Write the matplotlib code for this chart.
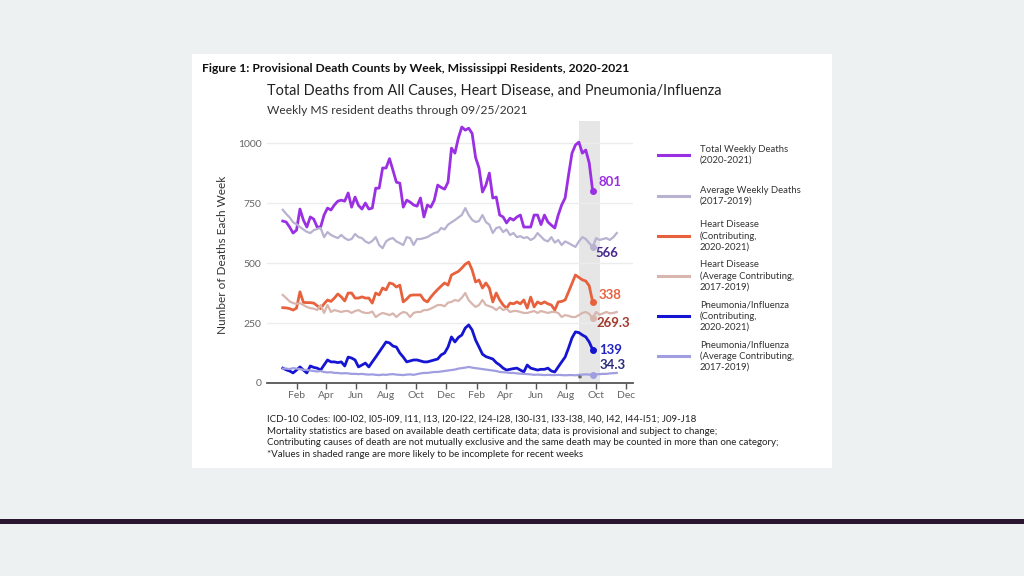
import pandas as pd
import matplotlib.pyplot as plt
import matplotlib.dates as mdates
from matplotlib.lines import Line2D
from matplotlib.patches import Rectangle

plt.rcParams['font.family'] = ['Lato', 'DejaVu Sans']

# weekly values (week ending dates, starting 2020-01-04)
total_deaths = [675, 671, 650, 625, 637, 725, 679, 650, 692, 683, 650, 650, 700, 729, 721, 742,
                758, 762, 758, 792, 733, 775, 740, 725, 750, 725, 729, 812, 812, 896, 896, 935,
                887, 837, 833, 733, 762, 754, 742, 737, 771, 692, 742, 733, 762, 825, 815, 808,
                837, 979, 958, 1021, 1067, 1054, 1062, 1040, 940, 896, 796, 825, 875, 771, 775,
                700, 692, 667, 687, 679, 692, 700, 650, 650, 650, 700, 700, 660, 700, 671, 658,
                646, 700, 742, 771, 867, 958, 992, 1004, 958, 971, 917, 801]
avg_deaths = [722, 705, 690, 670, 662, 650, 640, 630, 625, 637, 642, 646, 608, 629, 617, 610,
              604, 617, 604, 596, 600, 621, 608, 604, 590, 583, 592, 608, 575, 562, 590, 600,
              604, 590, 583, 575, 608, 604, 575, 600, 600, 604, 608, 617, 625, 629, 646, 640,
              660, 670, 679, 690, 700, 729, 700, 680, 671, 675, 700, 671, 660, 625, 646, 650,
              629, 640, 617, 625, 608, 612, 604, 608, 596, 604, 625, 610, 596, 590, 608, 585,
              596, 575, 590, 583, 575, 567, 590, 608, 600, 583, 566, 604, 596, 600, 604, 596,
              608, 625]
heart = [314, 313, 310, 304, 312, 380, 336, 335, 335, 333, 322, 310, 330, 346, 340, 354,
         371, 359, 342, 375, 375, 354, 354, 359, 354, 354, 333, 375, 367, 396, 388, 417,
         413, 400, 408, 338, 350, 365, 367, 367, 367, 346, 338, 358, 375, 390, 404, 417,
         408, 450, 458, 465, 479, 495, 504, 471, 421, 429, 396, 417, 396, 338, 375, 346,
         325, 312, 333, 330, 338, 330, 346, 312, 358, 317, 338, 330, 338, 330, 325, 304,
         338, 340, 346, 380, 415, 450, 440, 430, 425, 405, 338]
heart_avg = [367, 354, 340, 333, 330, 333, 325, 317, 312, 310, 304, 325, 292, 325, 296, 304,
             300, 296, 300, 300, 292, 300, 304, 296, 292, 292, 298, 275, 285, 292, 288, 283,
             290, 275, 288, 296, 292, 275, 292, 296, 296, 304, 304, 310, 317, 325, 325, 320,
             335, 338, 346, 342, 355, 375, 345, 330, 317, 325, 346, 325, 320, 315, 304, 317,
             304, 310, 296, 300, 300, 296, 292, 292, 296, 300, 292, 300, 296, 292, 296, 296,
             292, 275, 283, 280, 275, 275, 283, 292, 296, 288, 269.3, 296, 285, 290, 296, 290,
             292, 296]
pneu = [62, 55, 50, 42, 54, 67, 54, 42, 71, 65, 62, 54, 75, 96, 88, 88,
        85, 88, 71, 108, 104, 96, 67, 75, 83, 67, 88, 108, 129, 150, 171, 167,
        154, 150, 125, 108, 88, 92, 96, 96, 92, 88, 88, 92, 96, 100, 117, 125,
        150, 192, 171, 190, 200, 229, 242, 221, 179, 150, 120, 110, 105, 100, 85, 75,
        62, 54, 57, 60, 62, 54, 46, 75, 62, 58, 54, 57, 57, 62, 50, 46,
        67, 88, 108, 146, 188, 213, 210, 200, 192, 171, 139]
pneu_avg = [60, 60, 58, 62, 60, 58, 55, 54, 52, 50, 48, 50, 46, 44, 45, 42,
            42, 40, 41, 40, 38, 38, 37, 38, 36, 35, 36, 34, 33, 35, 34, 36,
            37, 35, 34, 33, 35, 36, 34, 37, 40, 42, 42, 44, 46, 46, 48, 50,
            52, 54, 56, 60, 62, 64, 67, 64, 62, 60, 58, 56, 54, 52, 50, 46,
            45, 44, 42, 42, 40, 39, 38, 37, 36, 34, 35, 34, 33, 34, 33, 33,
            34, 33, 32, 33, 33, 32, 34, 35, 36, 35, 34.3, 36, 37, 38, 38, 40,
            41, 42]

weeks = pd.date_range('2020-01-04', periods=len(total_deaths), freq='7D')
weeks_avg = pd.date_range('2020-01-04', periods=len(avg_deaths), freq='7D')
last = len(total_deaths) - 1

series = [
    (weeks, total_deaths, '#9a2fe3', 2.0, 'Total Weekly Deaths\n(2020-2021)', '801', '#9a2fe3', (4, 6)),
    (weeks_avg, avg_deaths, '#b8b1cf', 1.6, 'Average Weekly Deaths\n(2017-2019)', '566', '#4a2a8c', (2, -4)),
    (weeks, heart, '#e8613d', 2.0, 'Heart Disease\n(Contributing,\n2020-2021)', '338', '#e8613d', (4, 5)),
    (weeks_avg, heart_avg, '#d8b6ad', 1.6, 'Heart Disease\n(Average Contributing,\n2017-2019)', '269.3', '#a33a2c', (3, -3)),
    (weeks, pneu, '#1414d2', 2.0, 'Pneumonia/Influenza\n(Contributing,\n2020-2021)', '139', '#2424c4', (5, 0)),
    (weeks_avg, pneu_avg, '#a09ee0', 1.6, 'Pneumonia/Influenza\n(Average Contributing,\n2017-2019)', '34.3', '#2b2b7e', (5, 7)),
]

fig = plt.figure(figsize=(10.24, 5.76), dpi=100, facecolor='#eef1f1')
W, H = 1024, 576
fig.patches.append(Rectangle((192 / W, 1 - 468 / H), 640 / W, 414 / H, transform=fig.transFigure,
                             facecolor='white', edgecolor='none', zorder=-2))
fig.patches.append(Rectangle((0, 1 - 524 / H), 1, 5 / H, transform=fig.transFigure,
                             facecolor='#2b1631', edgecolor='none', zorder=-2))

ax = fig.add_axes([267 / W, 1 - 383 / H, 366 / W, 262 / H])
ax.set_zorder(2)
ax.set_facecolor('none')
ax.axvspan(pd.Timestamp('2021-08-28'), pd.Timestamp('2021-10-09'), color='#e6e6e6', zorder=0, lw=0)

for dates, vals, col, lw, lab, txt, tcol, off in series:
    ax.plot(dates, vals, color=col, lw=lw, zorder=3)
    ax.plot(dates[last], vals[last], 'o', color=col, ms=4, zorder=4)
    ax.annotate(txt, (dates[last], vals[last]), xytext=off, textcoords='offset points',
                ha='left', va='center', fontsize=9.5, fontweight='bold', color=tcol)

ax.text(pd.Timestamp('2021-08-28'), 8, '*', ha='center', va='center', fontsize=10, color='#333333')

ax.set_xlim(pd.Timestamp('2019-12-03'), pd.Timestamp('2021-12-16'))
ax.set_ylim(0, 1092)
ax.set_yticks([0, 250, 500, 750, 1000])
ax.yaxis.grid(True, color='#ececec', lw=1)
ax.set_axisbelow(True)
ax.xaxis.set_major_locator(mdates.MonthLocator(bymonth=[2, 4, 6, 8, 10, 12]))
ax.xaxis.set_major_formatter(mdates.DateFormatter('%b'))
ax.tick_params(axis='x', length=4, width=1, color='#555555', labelcolor='#666666', labelsize=7.5, pad=2)
ax.tick_params(axis='y', length=0, labelcolor='#666666', labelsize=7.5, pad=4)
for s in ['top', 'right', 'left']:
    ax.spines[s].set_visible(False)
ax.spines['bottom'].set_color('#555555')
ax.spines['bottom'].set_linewidth(1.3)

fig.text(222 / W, 1 - 255 / H, 'Number of Deaths Each Week', rotation=90, ha='center', va='center',
         fontsize=8.5, color='#333333')

# titles
fig.text(202 / W, 1 - 69 / H, 'Figure 1: Provisional Death Counts by Week, Mississippi Residents, 2020-2021',
         ha='left', va='center', fontsize=8.75, fontweight='bold', color='#111111')
fig.text(267 / W, 1 - 91 / H, 'Total Deaths from All Causes, Heart Disease, and Pneumonia/Influenza',
         ha='left', va='center', fontsize=10.45, color='#222222')
fig.text(267 / W, 1 - 110 / H, 'Weekly MS resident deaths through 09/25/2021',
         ha='left', va='center', fontsize=8.65, color='#333333')

# legend
legend_y = [155, 196, 236, 276, 316, 356]
for (dates, vals, col, lw, lab, txt, tcol, off), ly in zip(series, legend_y):
    fig.add_artist(Line2D([658 / W, 689 / W], [1 - ly / H, 1 - ly / H], color=col, lw=2.2))
    fig.text(700 / W, 1 - ly / H, lab, ha='left', va='center', fontsize=6.8, color='#333333',
             linespacing=1.25)

notes = ('ICD-10 Codes: I00-I02, I05-I09, I11, I13, I20-I22, I24-I28, I30-I31, I33-I38, I40, I42, I44-I51; J09-J18\n'
         'Mortality statistics are based on available death certificate data; data is provisional and subject to change;\n'
         'Contributing causes of death are not mutually exclusive and the same death may be counted in more than one category;\n'
         '*Values in shaded range are more likely to be incomplete for recent weeks')
fig.text(267 / W, 1 - 415 / H, notes, ha='left', va='top', fontsize=7.05, color='#222222', linespacing=1.38)

fig.savefig('out.png', dpi=100, facecolor=fig.get_facecolor())
